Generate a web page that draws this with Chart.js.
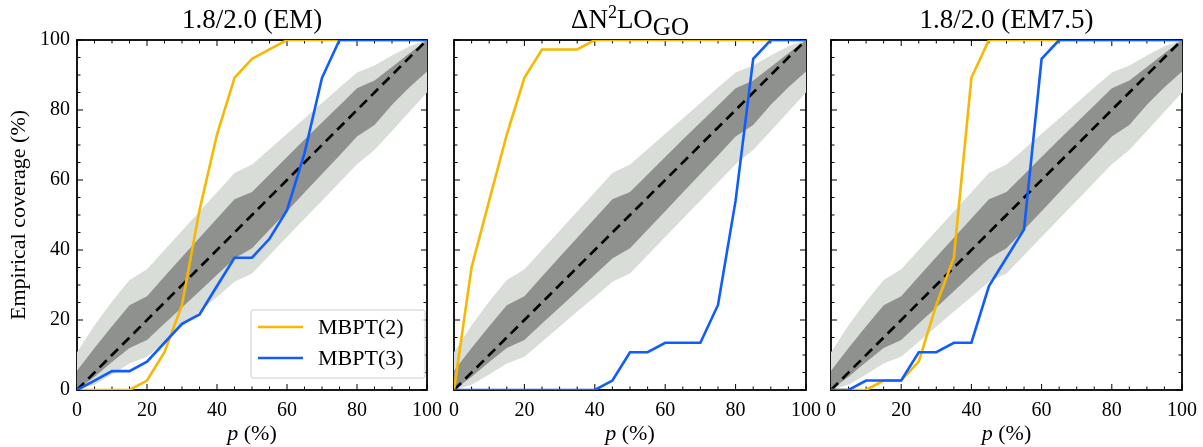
<!DOCTYPE html>
<html><head><meta charset="utf-8">
<script src="https://cdn.jsdelivr.net/npm/chart.js@4.4.1/dist/chart.umd.min.js"></script>
<style>
html,body{margin:0;padding:0;background:#fff;width:1203px;height:447px;overflow:hidden;}
canvas{position:absolute;top:0;}
</style></head><body>
<canvas id="c1" width="457" height="447" style="left:0px;width:457px;height:447px"></canvas>
<canvas id="c2" width="399" height="447" style="left:437px;width:399px;height:447px"></canvas>
<canvas id="c3" width="400" height="447" style="left:812px;width:400px;height:447px"></canvas>
<script>
// ---- data ----
const pValues = [0,5,10,15,20,25,30,35,40,45,50,55,60,65,70,75,80,85,90,95,100];
const outerLow  = [0,1.5,4.4,7.6,9.5,13.8,18.1,22.4,26.6,30.9,33.3,38.5,43.7,48.9,54.1,59.3,64.5,68.6,74.0,79.5,85.0];
const outerHigh = [10.8,18.5,25.3,31.4,34.5,40.0,45.5,51.0,56.5,62.0,64.4,68.8,73.2,77.6,82.0,86.4,90.7,92.7,95.6,98.2,100];
const innerLow  = [0,3.8,8.0,12.0,14.3,19.0,23.6,28.2,32.9,37.6,40.5,45.8,51.1,56.4,61.7,67.0,72.4,75.7,81.5,86.5,91.0];
const innerHigh = [5.5,12.0,18.2,24.2,26.8,32.4,38.0,43.5,49.0,54.5,56.6,61.6,66.6,71.6,76.4,81.3,86.2,88.4,92.3,96.2,100];
const diagX = [0,100];
const diagY = [0,100];

const mbpt2_EM   = [0,0,0,0,2.7,10.8,24.3,51.4,73.0,89.2,94.6,97.3,100,100,100,100,100,100,100,100,100];
const mbpt3_EM   = [0,2.7,5.4,5.4,8.1,13.5,18.9,21.6,29.7,37.8,37.8,43.2,51.4,67.6,89.2,100,100,100,100,100,100];
const mbpt2_GO   = [0,35.1,54.1,73.0,89.2,97.3,97.3,97.3,100,100,100,100,100,100,100,100,100,100,100,100,100];
const mbpt3_GO   = [0,0,0,0,0,0,0,0,0,2.7,10.8,10.8,13.5,13.5,13.5,24.3,54.1,94.6,100,100,100];
const mbpt2_EM75 = [0,0,0,2.7,2.7,8.1,24.3,37.8,89.2,100,100,100,100,100,100,100,100,100,100,100,100];
const mbpt3_EM75 = [0,0,2.7,2.7,2.7,10.8,10.8,13.5,13.5,29.7,37.8,45.9,94.6,100,100,100,100,100,100,100,100];

const seriesNames = ['MBPT(2)','MBPT(3)'];
const tickValues = [0,20,40,60,80,100];
const minorTickValues = [0,5,10,15,20,25,30,35,40,45,50,55,60,65,70,75,80,85,90,95,100];
const titleEM = [{t:'1.8/2.0 (EM)'}];
const titleGO = [{t:'\u0394N'},{t:'2',sup:true},{t:'LO'},{t:'GO',sub:true}];
const titleEM75 = [{t:'1.8/2.0 (EM7.5)'}];
const yAxisTitle = 'Empirical coverage (%)';

// ---- style ----
const SERIF = '"Liberation Serif", "DejaVu Serif", serif';
const LIGHT = '#d9ddd8';
const DARK = '#8f918e';
const YELLOW = '#f6b800';
const BLUE = '#0f5cff';

const pts = arr => pValues.map((p,i)=>({x:p, y:arr[i]}));

function makeDatasets(m2, m3) {
  const band = {pointRadius:0, borderWidth:0, tension:0, borderColor:'rgba(0,0,0,0)'};
  return [
    Object.assign({label:'outerLow', data:pts(outerLow), fill:false, order:5}, band),
    Object.assign({label:'outerHigh', data:pts(outerHigh), fill:'-1', backgroundColor:LIGHT, order:5}, band),
    Object.assign({label:'innerLow', data:pts(innerLow), fill:false, order:4}, band),
    Object.assign({label:'innerHigh', data:pts(innerHigh), fill:'-1', backgroundColor:DARK, order:4}, band),
    {label:'diag', data:diagX.map((v,i)=>({x:v,y:diagY[i]})), borderColor:'#000', borderWidth:2.7,
     borderDash:[10,6], pointRadius:0, fill:false, order:3, borderCapStyle:'butt'},
    {label:seriesNames[0], data:pts(m2), borderColor:YELLOW, borderWidth:2.6, pointRadius:0, fill:false, order:2, tension:0},
    {label:seriesNames[1], data:pts(m3), borderColor:BLUE, borderWidth:2.6, pointRadius:0, fill:false, order:1, tension:0},
  ];
}

const frameTicks = {
  id:'frameTicks',
  beforeDatasetsDraw(chart) {
    const {ctx, chartArea:a, scales:{x,y}} = chart;
    ctx.save();
    ctx.strokeStyle = '#000';
    ctx.lineWidth = 1;
    ctx.beginPath();
    for (const v of minorTickValues) {
      const len = (v % 20 === 0) ? 6 : 3.5;
      const px = x.getPixelForValue(v);
      ctx.moveTo(px, a.bottom); ctx.lineTo(px, a.bottom - len);
      ctx.moveTo(px, a.top); ctx.lineTo(px, a.top + len);
      const py = y.getPixelForValue(v);
      ctx.moveTo(a.left, py); ctx.lineTo(a.left + len, py);
      ctx.moveTo(a.right, py); ctx.lineTo(a.right - len, py);
    }
    ctx.stroke();
    ctx.lineWidth = 1.8;
    ctx.strokeRect(a.left, a.top, a.right - a.left, a.bottom - a.top);
    ctx.restore();
  },
  afterDraw(chart, args, opts) {
    const {ctx, chartArea:a} = chart;
    ctx.save();
    ctx.fillStyle = '#000';
    // panel title
    const parts = opts.title || [];
    const fontFor = p => (p.sup ? 18 : p.sub ? 25 : 27) + 'px ' + SERIF;
    let total = 0;
    for (const p of parts) { ctx.font = fontFor(p); total += ctx.measureText(p.t).width; }
    let cx = (a.left + a.right)/2 - total/2;
    ctx.textBaseline = 'alphabetic';
    ctx.textAlign = 'left';
    for (const p of parts) {
      ctx.font = fontFor(p);
      const dy = p.sup ? -10 : p.sub ? 7 : 0;
      ctx.fillText(p.t, cx, 28 + dy);
      cx += ctx.measureText(p.t).width;
    }
    // x-axis title: italic p (%)
    ctx.textBaseline = 'middle';
    const f1 = 'italic 22px ' + SERIF, f2 = '22px ' + SERIF;
    ctx.font = f1; const w1 = ctx.measureText('p').width;
    ctx.font = f2; const w2 = ctx.measureText(' (%)').width;
    let xx = (a.left + a.right)/2 - (w1 + w2)/2;
    ctx.font = f1; ctx.fillText('p', xx, 434);
    ctx.font = f2; ctx.fillText(' (%)', xx + w1, 434);
    // legend
    if (opts.legend) {
      const L = a.right - 176, T = a.bottom - 80, W = 174, H = 68;
      ctx.fillStyle = 'rgba(255,255,255,0.85)';
      ctx.strokeStyle = '#cccccc';
      ctx.lineWidth = 1;
      ctx.beginPath();
      if (ctx.roundRect) ctx.roundRect(L, T, W, H, 2); else ctx.rect(L, T, W, H);
      ctx.fill(); ctx.stroke();
      const ds = chart.data.datasets.filter(d => seriesNames.includes(d.label));
      ds.forEach((d, i) => {
        const yy = T + 17 + i * 31;
        ctx.strokeStyle = d.borderColor;
        ctx.lineWidth = 2.6;
        ctx.beginPath(); ctx.moveTo(L + 7, yy); ctx.lineTo(L + 52, yy); ctx.stroke();
        ctx.fillStyle = '#000';
        ctx.font = '22px ' + SERIF;
        ctx.textBaseline = 'middle';
        ctx.fillText(d.label, L + 67, yy + 1);
      });
    }
    ctx.restore();
  }
};

function makeChart(id, m2, m3, title, showY, yWidth, rightPad, legend) {
  const setTicks = scale => { scale.ticks = tickValues.map(v => ({value:v})); };
  return new Chart(document.getElementById(id), {
    type:'line',
    data:{datasets:makeDatasets(m2, m3)},
    plugins:[frameTicks],
    options:{
      responsive:false, animation:false, events:[],
      layout:{padding:{top:40, right:rightPad, left:0, bottom:0}},
      plugins:{
        legend:{display:false}, tooltip:{enabled:false}, title:{display:false},
        frameTicks:{title:title, legend:legend}
      },
      scales:{
        x:{type:'linear', min:0, max:100,
           grid:{display:false, drawTicks:false}, border:{display:false},
           afterBuildTicks:setTicks,
           afterFit:s => { s.height = 57; },
           ticks:{color:'#000', font:{family:SERIF, size:20}, padding:9, maxRotation:0, autoSkip:false}},
        y:{type:'linear', min:0, max:100,
           grid:{display:false, drawTicks:false}, border:{display:false},
           afterBuildTicks:setTicks,
           afterFit:s => { s.width = yWidth; },
           title:{display:showY, text:yAxisTitle, color:'#000', font:{family:SERIF, size:22, lineHeight:1.2}, padding:{top:6, bottom:0}},
           ticks:{display:showY, color:'#000', font:{family:SERIF, size:20}, padding:7}}
      }
    }
  });
}

makeChart('c1', mbpt2_EM, mbpt3_EM, titleEM, true, 77, 30, true);
makeChart('c2', mbpt2_GO, mbpt3_GO, titleGO, false, 17, 30, false);
makeChart('c3', mbpt2_EM75, mbpt3_EM75, titleEM75, false, 19, 30, false);
</script>
</body></html>
